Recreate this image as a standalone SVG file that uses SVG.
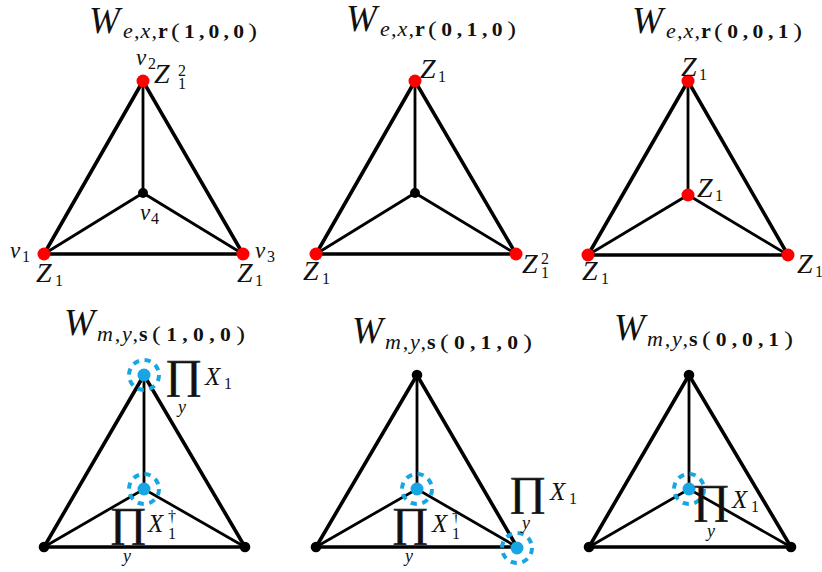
<svg xmlns="http://www.w3.org/2000/svg" width="822" height="572" viewBox="0 0 822 572">
<style>
.o{stroke:#000;stroke-width:3.6;fill:none;stroke-linecap:round}
.i{stroke:#000;stroke-width:2.8;fill:none;stroke-linecap:round}
.red{fill:#ff0000}
.blk{fill:#000}
.blu{fill:#17a6e4}
.ring{fill:none;stroke:#17a6e4;stroke-width:4;stroke-dasharray:6.2 5.6}
.mi{font-style:italic}
.bf{font-weight:bold}
.W{font-size:37px}
.sb{font-size:22px}
.dg{font-size:18px;font-weight:bold}
.Z{font-size:28px}
.v{font-size:23px}
.d{font-size:16px}
.X{font-size:25px}
.P{font-size:41px;stroke:#111;stroke-width:0.6}
.y{font-size:18px}
</style>
<rect width="822" height="572" fill="#fff"/>

<!-- connectors -->
<g id="edges">
  <path class="o" d="M143 81L44 254L243 254Z"/>
  <path class="i" d="M143 81L143 193M44 254L143 193L243 254"/>
  <path class="o" d="M415 81L316 254L516 254Z"/>
  <path class="i" d="M415 81L415 193M316 254L415 193L516 254"/>
  <path class="o" d="M688 81L588 255L788 255Z"/>
  <path class="i" d="M688 81L688 195M588 255L688 195L788 255"/>
  <path class="o" d="M144 375L44 547L245 547Z"/>
  <path class="i" d="M144 375L144 489M44 547L144 489L245 547"/>
  <path class="o" d="M417 375L316 547L517 547Z"/>
  <path class="i" d="M417 375L417 489M316 547L417 489L517 547"/>
  <path class="o" d="M689 375L589 547L791 547Z"/>
  <path class="i" d="M689 375L689 489M589 547L689 489L791 547"/>
</g>

<g font-family="Liberation Serif" fill="#111">
<!-- titles -->
<g id="titles">
  <g id="t1"><text class="mi W" x="89" y="33">W</text><text class="mi sb" x="123" y="38" textLength="34" lengthAdjust="spacing">e,x,</text><text class="bf sb" x="158" y="38">r</text><text class="sb" transform="translate(171 38) scale(1.2 1)" textLength="71.7" lengthAdjust="spacing">(<tspan class="dg">1,0,0</tspan>)</text></g>
  <g id="t2"><text class="mi W" x="346" y="31">W</text><text class="mi sb" x="380" y="36" textLength="34" lengthAdjust="spacing">e,x,</text><text class="bf sb" x="415" y="36">r</text><text class="sb" transform="translate(428 36) scale(1.2 1)" textLength="73.3" lengthAdjust="spacing">(<tspan class="dg">0,1,0</tspan>)</text></g>
  <g id="t3"><text class="mi W" x="632" y="33">W</text><text class="mi sb" x="666" y="38" textLength="34" lengthAdjust="spacing">e,x,</text><text class="bf sb" x="701" y="38">r</text><text class="sb" transform="translate(714 38) scale(1.2 1)" textLength="73.3" lengthAdjust="spacing">(<tspan class="dg">0,0,1</tspan>)</text></g>
  <g id="t4"><text class="mi W" x="64" y="335">W</text><text class="mi sb" x="97" y="341" textLength="41" lengthAdjust="spacing">m,y,</text><text class="bf sb" x="139" y="341">s</text><text class="sb" transform="translate(152 341) scale(1.2 1)" textLength="77.5" lengthAdjust="spacing">(<tspan class="dg">1,0,0</tspan>)</text></g>
  <g id="t5"><text class="mi W" x="352" y="343">W</text><text class="mi sb" x="385" y="349" textLength="41" lengthAdjust="spacing">m,y,</text><text class="bf sb" x="427" y="349">s</text><text class="sb" transform="translate(440 349) scale(1.2 1)" textLength="76.7" lengthAdjust="spacing">(<tspan class="dg">0,1,0</tspan>)</text></g>
  <g id="t6"><text class="mi W" x="614" y="340">W</text><text class="mi sb" x="647" y="346" textLength="41" lengthAdjust="spacing">m,y,</text><text class="bf sb" x="689" y="346">s</text><text class="sb" transform="translate(702 346) scale(1.2 1)" textLength="75.8" lengthAdjust="spacing">(<tspan class="dg">0,0,1</tspan>)</text></g>
</g>

<!-- panel 1 -->
<g id="p1v2"><circle class="red" cx="143" cy="81" r="6.5"/>
  <text class="mi v" x="136" y="65">v</text><text class="d" x="148" y="69">2</text>
  <text class="mi Z" x="154" y="83">Z</text><text class="d" x="178" y="76">2</text><text class="d" x="178" y="89">1</text></g>
<g id="p1v4"><circle class="blk" cx="143" cy="193" r="5"/>
  <text class="mi v" x="140" y="220">v</text><text class="d" x="151" y="224">4</text></g>
<g id="p1v1"><circle class="red" cx="44" cy="254" r="6.5"/>
  <text class="mi v" x="10" y="258">v</text><text class="d" x="22" y="262">1</text>
  <text class="mi Z" x="36" y="282">Z</text><text class="d" x="55" y="286">1</text></g>
<g id="p1v3"><circle class="red" cx="243" cy="254" r="6.5"/>
  <text class="mi v" x="255" y="258">v</text><text class="d" x="267" y="262">3</text>
  <text class="mi Z" x="237" y="282">Z</text><text class="d" x="255" y="286">1</text></g>

<!-- panel 2 -->
<g id="p2t"><circle class="red" cx="415" cy="81" r="6.5"/>
  <text class="mi Z" x="420" y="78">Z</text><text class="d" x="438" y="82">1</text></g>
<g id="p2c"><circle class="blk" cx="415" cy="193" r="5"/></g>
<g id="p2l"><circle class="red" cx="316" cy="254" r="6.5"/>
  <text class="mi Z" x="303" y="280">Z</text><text class="d" x="322" y="284">1</text></g>
<g id="p2r"><circle class="red" cx="516" cy="254" r="6.5"/>
  <text class="mi Z" x="522" y="273">Z</text><text class="d" x="541" y="264">2</text><text class="d" x="541" y="278">1</text></g>

<!-- panel 3 -->
<g id="p3t"><circle class="red" cx="688" cy="81" r="6.5"/>
  <text class="mi Z" x="681" y="76">Z</text><text class="d" x="699" y="80">1</text></g>
<g id="p3c"><circle class="red" cx="688" cy="195" r="6.5"/>
  <text class="mi Z" x="697" y="197">Z</text><text class="d" x="715" y="201">1</text></g>
<g id="p3l"><circle class="red" cx="588" cy="255" r="6.5"/>
  <text class="mi Z" x="582" y="280">Z</text><text class="d" x="601" y="284">1</text></g>
<g id="p3r"><circle class="red" cx="788" cy="255" r="6.5"/>
  <text class="mi Z" x="797" y="273">Z</text><text class="d" x="815" y="277">1</text></g>

<!-- panel 4 -->
<g id="p4t"><circle class="ring" cx="144" cy="375" r="15"/><circle class="blu" cx="144" cy="375" r="6.5"/>
  <text class="P" transform="translate(183.5 388) scale(1.1 1)" text-anchor="middle">∏</text><text class="mi y" x="178" y="413">y</text>
  <text class="mi X" x="205" y="385">X</text><text class="d" x="224" y="389">1</text></g>
<g id="p4c"><circle class="ring" cx="144" cy="489" r="15"/><circle class="blu" cx="144" cy="489" r="6.5"/>
  <text class="P" transform="translate(128 536) scale(1.1 1)" text-anchor="middle">∏</text><text class="mi y" x="123" y="562">y</text>
  <text class="mi X" x="148" y="532">X</text><text class="d" x="168" y="522">†</text><text class="d" x="168" y="539">1</text></g>
<g id="p4l"><circle class="blk" cx="44" cy="547" r="5.3"/></g>
<g id="p4r"><circle class="blk" cx="245" cy="547" r="5.3"/></g>

<!-- panel 5 -->
<g id="p5t"><circle class="blk" cx="417" cy="375" r="5.3"/></g>
<g id="p5c"><circle class="ring" cx="417" cy="489" r="15"/><circle class="blu" cx="417" cy="489" r="6.5"/>
  <text class="P" transform="translate(410 536) scale(1.1 1)" text-anchor="middle">∏</text><text class="mi y" x="405" y="562">y</text>
  <text class="mi X" x="432" y="532">X</text><text class="d" x="452" y="522">†</text><text class="d" x="452" y="539">1</text></g>
<g id="p5l"><circle class="blk" cx="316" cy="547" r="5.3"/></g>
<g id="p5r"><circle class="ring" cx="517" cy="548" r="15"/><circle class="blu" cx="517" cy="548" r="6.5"/>
  <text class="P" transform="translate(527.5 505) scale(1.1 1)" text-anchor="middle">∏</text><text class="mi y" x="522" y="529">y</text>
  <text class="mi X" x="550" y="500">X</text><text class="d" x="569" y="504">1</text></g>

<!-- panel 6 -->
<g id="p6t"><circle class="blk" cx="689" cy="375" r="5.3"/></g>
<g id="p6c"><circle class="ring" cx="689" cy="489" r="15"/><circle class="blu" cx="689" cy="489" r="6.5"/>
  <text class="P" transform="translate(711 513) scale(1.1 1)" text-anchor="middle">∏</text><text class="mi y" x="707" y="537">y</text>
  <text class="mi X" x="732" y="508">X</text><text class="d" x="751" y="512">1</text></g>
<g id="p6l"><circle class="blk" cx="589" cy="547" r="5.3"/></g>
<g id="p6r"><circle class="blk" cx="791" cy="547" r="5.3"/></g>
</g>
</svg>
